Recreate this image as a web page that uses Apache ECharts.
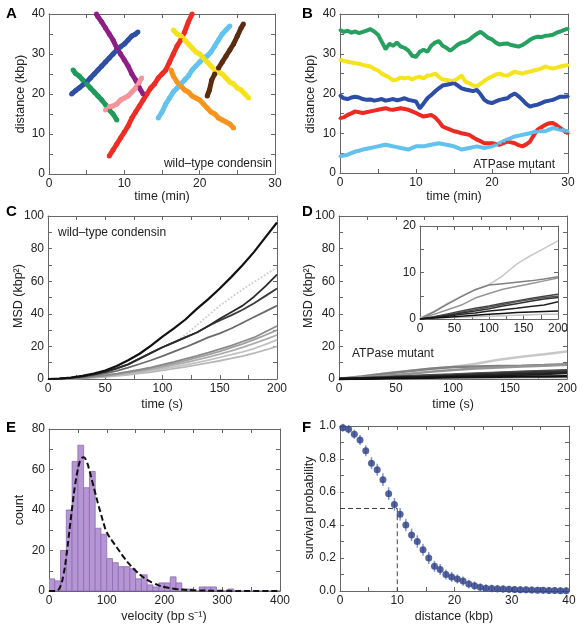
<!DOCTYPE html>
<html><head><meta charset="utf-8">
<script src="https://cdn.jsdelivr.net/npm/echarts@6/dist/echarts.min.js"></script>
<style>html,body{margin:0;padding:0;background:#fff}#c{width:583px;height:632px}</style>
</head><body><div id="c"></div><script>
// ---------- Panel A: wild-type condensin traces [time (min), distance (kbp)]
const aBlue = [[3,20],[3.5,20.8],[4,21.5],[4.5,22.3],[5,23],[5.5,24],[6,25],[6.5,26],[7,27],[7.5,28],[8,29],[8.5,30],[9,31],[9.5,31.8],[10,32.5],[10.5,33.5],[11,34.5],[11.5,35],[11.8,35.5]];
const aGreen = [[3.2,26],[3.5,25.2],[4,24.5],[4.5,23.5],[5,22.5],[5.5,21.5],[6,20.5],[6.5,19.5],[7,18.5],[7.5,17.3],[8,16],[8.5,15],[9,13.5]];
const aPurple = [[6.3,40],[6.5,39.3],[7,38],[7.5,36.5],[8,35],[8.5,33.5],[9,31.5],[9.5,30],[10,28.5],[10.5,27],[11,25],[11.5,23.5],[12,21.5],[12.5,20]];
const aPink = [[7.5,16],[8,16.8],[8.5,17],[9,17.5],[9.5,18.5],[10,19],[10.5,19.5],[11,20.5],[11.5,21.5],[12,23],[12.3,24]];
const aRed = [[8,4.5],[8.5,6],[9,7.5],[9.5,9],[10,10.5],[10.5,12],[11,14],[11.5,15.5],[12,17],[12.5,18.5],[13,20],[13.5,21.5],[14,22.5],[14.5,24],[15,25],[15.5,26],[16,28],[16.5,30],[17,32],[17.5,33.5],[18,35.5],[18.5,38],[19,40]];
const aLightBlue = [[14.5,14],[15,15.5],[15.5,17.5],[16,19],[16.5,20.5],[17,21.5],[17.5,22.5],[18,23.5],[18.5,24.5],[19,26],[19.5,27],[20,28],[20.5,29],[21,29.5],[21.5,30.5],[22,32],[22.5,33.5],[23,35],[23.5,36],[24,37]];
const aYellow = [[16.5,36],[17,35],[17.5,34.5],[18,33.5],[18.5,32.5],[19,31.5],[19.5,30.5],[20,30],[20.5,29],[21,28],[21.5,27],[22,26],[22.5,25.5],[23,25],[23.5,24],[24,23],[24.5,22.5],[25,21.5],[25.5,21],[26,20],[26.5,19]];
const aOrange = [[16.2,26],[16.5,24.5],[17,23],[17.5,22],[18,21],[18.5,20.5],[19,19.5],[19.5,19],[20,18.5],[20.5,17.5],[21,16.5],[21.5,15.5],[22,15],[22.5,14],[23,13.5],[23.5,13],[24,12.5],[24.5,11.5]];
const aBrown = [[21,19.5],[21.3,21],[21.6,23.5],[22,25],[22.5,26.5],[23,28],[23.5,29.5],[24,31],[24.5,32.5],[25,34.5],[25.5,36.5],[25.8,37.5]];

// ---------- Panel B: ATPase mutant traces, sampled every 0.5 min from 0 to 30
const bGreen = [36,35.5,35.8,35.3,35.6,35.2,35.5,35.8,36.2,35.6,34.8,33,31.2,32.5,32,32.8,31.8,31.5,30.8,29.5,29.2,30.5,31,30.5,32,32.8,33.2,32,31.5,30.8,31.5,32.3,32.8,33,33.5,34.3,35,35.5,34.8,34,33.6,32.8,32.3,32.5,32.6,32.2,32,31.8,32.2,32.8,33.5,34,34.3,34.2,34.5,34.6,34.8,35.3,35.6,36,36.3];
const bYellow = [28.5,28.2,28,27.8,27.6,27.5,27.2,27,26.8,26.2,25.8,25,24.5,24,23.3,23.5,24,23.8,24,23.5,24,24.2,23.8,24.5,24.6,25,24.2,23.5,23.4,23.2,23.2,23.8,24.5,23,22.6,22,21.8,22.5,23.2,23.8,24.3,24.8,25,24.6,24.5,25,25.5,25.2,25,25.3,25.5,25.8,26,26.3,26.8,26.5,26.3,26.5,26.8,27,27.2];
const bBlue = [19.5,18.8,18.6,19,19.2,19,18.6,18.4,18.5,18.2,18.4,18.6,18.2,18.4,18.6,18.3,18.5,18.8,18.4,18.2,18,16.3,17.5,18.8,19.6,20.5,21.3,22,22.2,22.4,22.6,22,21.3,21,20.8,20.6,20.9,19.8,18.4,17.8,17.6,18,18.4,18.6,18.8,19.5,20,19.3,18.4,17.4,16.7,17,17.2,17.6,18,18.2,18.4,18.8,19.2,19.2,19.3];
const bRed = [13.8,14,14.6,15,15.5,15.3,15.1,15.3,15.5,15.7,15.9,16.1,16.3,16,15.9,16.1,16.3,16.1,15.9,15.5,15.1,14.6,14.2,14.4,14.6,14,13,11.7,11.3,10.9,10.5,10.3,10,9.8,9.6,9,8.4,8,7.5,7.5,7.5,7.3,7.1,7.5,7.9,7.7,7.5,7,6.7,7.2,7.9,9.5,10.9,11.5,12.1,12.5,12.6,12,11.3,10.6,10];
const bLightBlue = [4.2,4.4,4.6,5,5.4,5.6,5.9,6.1,6.3,6.5,6.7,6.9,7.1,6.9,6.7,6.5,6.3,6.1,5.9,6.3,6.7,6.7,6.7,6.9,7.1,7.3,7.5,7.3,7.1,6.9,6.7,6.3,5.9,6.1,6.3,6.5,6.7,6.5,6.3,6.5,6.7,7.1,7.5,8,8.4,8.8,9.2,9.4,9.6,9.8,10,10.3,10.5,10.5,10.5,10.9,11.3,11.1,10.9,10.7,10.5];

// ---------- Panel C: MSD wild-type (kbp^2), every 10 s from 0 to 200
const c1 = [0,0.3,0.9,1.9,3.3,5.2,8,11.5,15.5,20.5,26,31,36.5,43,49,55.5,62.5,70,78,87,96];
const c2 = [0,0.2,0.7,1.6,2.8,4.4,6.5,9,12.5,16,19.5,22.5,25.5,28.5,32.5,37,41,45,50.5,57,64];
const c3 = [0,0.2,0.7,1.6,2.8,4.4,6.5,9,12.5,16,19.5,22.5,25.5,28.5,32.5,36,39,42.5,46.5,51,55.5];
const c4 = [0,0.2,0.7,1.6,2.8,4.4,6.5,9,12.5,16,19.5,22.5,27,33,39,45,50,55,59.5,64,68.5];
const c5 = [0,0.1,0.5,1.2,2.2,3.5,5,7,9.2,11.5,14,16.8,19.5,22.5,25.5,28,31,34.5,38,41.5,45];
const c6 = [0,0.1,0.3,0.7,1.4,2.3,3.3,4.5,5.8,7.2,8.8,10.5,12.3,14.2,16.2,18.3,20.5,23,25.5,29,32.5];
const c7 = [0,0.1,0.3,0.7,1.3,2.1,3,4.1,5.3,6.6,8,9.6,11.3,13.1,15,17,19.2,21.6,24.2,27,30];
const c8 = [0,0.1,0.3,0.6,1.1,1.8,2.6,3.6,4.7,5.9,7.2,8.6,10.1,11.7,13.4,15.2,17.2,19.4,21.8,24.3,27];
const c9 = [0,0.1,0.2,0.5,1,1.6,2.3,3.1,4,5,6.2,7.4,8.7,10.1,11.6,13.2,14.9,16.7,18.7,21.2,24];
const c10 = [0,0.1,0.2,0.4,0.8,1.3,1.9,2.6,3.4,4.3,5.3,6.3,7.4,8.6,9.9,11.2,12.6,14.1,15.8,17.8,20];

// ---------- Panel D: MSD ATPase mutant (kbp^2), every 20 s from 0 to 200
const d1 = [0.3,1.6,3.4,4.9,6.3,7.4,9.3,11.8,13.6,15.2,16.8];
const d2 = [0,1.5,3.2,4.8,6.3,7.3,7.6,7.9,8.2,8.6,9.1];
const d3 = [0,1,2,3,4.5,5.5,6.4,7,7.6,8.2,8.8];
const d4 = [0,0.5,1.1,1.7,2.3,2.8,3.4,3.9,4.4,4.9,5.3];
const d5 = [0,0.4,0.9,1.5,2,2.6,3.1,3.7,4.2,4.6,4.9];
const d6 = [0,0.3,0.8,1.3,1.7,2.2,2.8,3.3,3.8,4.3,4.6];
const d7 = [0,0.3,0.6,1,1.3,1.7,2,2.3,2.7,3,3.7];
const d8 = [0,0.2,0.4,0.6,0.8,1,1.2,1.4,1.5,1.6,1.7];
const d9 = [0,0.2,0.3,0.4,0.5,0.6,0.7,0.8,0.9,1,1];

// ---------- Panel E: velocity histogram (10 bp/s bins, 0..400) and fit
const eCounts = [6,5,20,40,64,72,51,59,31,28,16,14,12,12,11,6,8,3,2,4,4,7,4,1,1,0,2,2,2,0,0,1,0,0,0,0,0,0,0,0];
const eFitX = [0,10,15,20,25,30,35,40,45,50,55,60,65,70,75,80,85,90,95,100,110,120,130,140,150,160,170,180,190,200,220,250,300,350,400];
const eFitY = [0,0,0.3,2.5,8,17,29,41,52,60,65,66,64,59.5,54,48.5,43,38,33,29,24.5,20.5,16.5,13,10,7.5,5.5,4,2.8,2,1,0.4,0.1,0,0];

// ---------- Panel F: survival probability vs distance (1 kbp bins)
const fX = [0.5,1.5,2.5,3.5,4.5,5.5,6.5,7.5,8.5,9.5,10.5,11.5,12.5,13.5,14.5,15.5,16.5,17.5,18.5,19.5,20.5,21.5,22.5,23.5,24.5,25.5,26.5,27.5,28.5,29.5,30.5,31.5,32.5,33.5,34.5,35.5,36.5,37.5,38.5,39.5];
const fY = [0.99,0.98,0.95,0.915,0.85,0.775,0.735,0.675,0.59,0.525,0.465,0.40,0.34,0.30,0.25,0.20,0.15,0.13,0.10,0.085,0.073,0.06,0.042,0.032,0.022,0.017,0.015,0.013,0.012,0.01,0.009,0.008,0.007,0.006,0.005,0.004,0.003,0.003,0.002,0.002];
const fErr = [0.005,0.008,0.01,0.012,0.015,0.018,0.018,0.02,0.02,0.02,0.02,0.02,0.02,0.02,0.018,0.018,0.015,0.015,0.012,0.012,0.01,0.01,0.008,0.008,0.006,0.005,0.005,0.004,0.004,0.003,0.003,0.003,0.002,0.002,0.002,0.002,0.002,0.001,0.001,0.001];
const fHalf = [[0,0.5],[10,0.5],[10,0]];

// ---------- sampling grids
const tB = []; for (let k = 0; k <= 60; k++) tB.push(k * 0.5);
const tC = []; for (let k = 0; k <= 20; k++) tC.push(k * 10);
const tD = []; for (let k = 0; k <= 10; k++) tD.push(k * 20);

const FONT = '"Liberation Sans", Arial, Helvetica, sans-serif';
const GRIDS = [
  {left:49, top:14, width:226, height:160},
  {left:340, top:14, width:228, height:159},
  {left:48, top:216, width:229, height:163},
  {left:339, top:216, width:228, height:163},
  {left:420, top:226, width:138, height:93},
  {left:49, top:429, width:231, height:162},
  {left:340, top:426, width:229, height:165}
];
const AX = [
  {x:[0,30,5,10], y:[0,40,5,10]},
  {x:[0,30,5,10], y:[0,40,5,10]},
  {x:[0,200,25,50], y:[0,100,10,20]},
  {x:[0,200,25,50], y:[0,100,10,20]},
  {x:[0,200,25,50], y:[0,20,5,10]},
  {x:[0,400,50,100], y:[0,80,10,20]},
  {x:[0,40,5,10], y:[0,1,0.1,0.2], yfmt:v=>v.toFixed(1)}
];
const grid = [], xAxis = [], yAxis = [];
function mkAxis(i, r, pos, show, fmt) {
  return {
    type:'value', gridIndex:i, position:pos, min:r[0], max:r[1], interval:r[2],
    axisLine:{show:true, onZero:false, lineStyle:{color:'#666', width:1}},
    axisTick:{show:true, inside:true, length:4, lineStyle:{color:'#666', width:1}},
    axisLabel:{show:show, margin:4, color:'#222', fontSize:12, fontFamily:FONT,
      formatter:v=>{const q=v/r[3]; return Math.abs(q-Math.round(q))<1e-6 ? (fmt?fmt(v):String(Math.round(v))) : '';}},
    splitLine:{show:false}
  };
}
GRIDS.forEach((g,i)=>{
  grid.push(Object.assign({containLabel:false, outerBoundsMode:'none', show:i===4, backgroundColor:'#fff', borderWidth:0}, g));
  xAxis.push(mkAxis(i, AX[i].x, 'bottom', true, AX[i].xfmt), mkAxis(i, AX[i].x, 'top', false));
  yAxis.push(mkAxis(i, AX[i].y, 'left', true, AX[i].yfmt), mkAxis(i, AX[i].y, 'right', false));
});

const series = [];
function trace(gi, data, color, w, sym) {
  series.push({type:'line', xAxisIndex:2*gi, yAxisIndex:2*gi, data:data, showSymbol:sym>0, symbol:'circle', symbolSize:sym,
    lineStyle:{width:w, color:color}, itemStyle:{color:color}, silent:true, clip:true});
}
[[aBlue,'#2f4fa5'],[aGreen,'#1f9a5b'],[aPurple,'#8f1f84'],[aPink,'#f4959c'],[aRed,'#ee2d24'],
 [aLightBlue,'#62c3ee'],[aYellow,'#f5e21e'],[aOrange,'#f7941d'],[aBrown,'#5b2c0f']].forEach(([d,c])=>trace(0,d,c,5,5));
[[bGreen,'#27a060'],[bYellow,'#f5e31c'],[bBlue,'#2d4ea6'],[bRed,'#ee2a22'],[bLightBlue,'#62c2ee']]
  .forEach(([v,c])=>trace(1, tB.map((t,k)=>[t,v[k]]), c, 4, 3));
[[c10,'#b8b8b8'],[c9,'#c2c2c2'],[c8,'#adadad'],[c7,'#a0a0a0'],[c6,'#8a8a8a'],[c5,'#6a6a6a'],[c4,'#cdcdcd'],[c3,'#3a3a3a'],[c2,'#2a2a2a'],[c1,'#111111']]
  .forEach(([v,c],k)=>{ trace(2, tC.map((t,j)=>[t,v[j]]), c, k===9?2.2:1.8, 0); if (v===c4) series[series.length-1].lineStyle.type='dotted'; });
const dSet = [[d1,'#c8c8c8'],[d9,'#c4c4c4'],[d2,'#808080'],[d3,'#959595'],[d4,'#444'],[d5,'#555'],[d6,'#333'],[d7,'#222'],[d8,'#111']];
dSet.forEach(([v,c])=>trace(3, tD.map((t,j)=>[t,v[j]]), c, 2.5, 0));
dSet.forEach(([v,c])=>trace(4, tD.map((t,j)=>[t,v[j]]), c, 1.5, 0));

series.push({type:'custom', xAxisIndex:10, yAxisIndex:10, silent:true, clip:true,
  data: eCounts.map((n,i)=>[i*10, i*10+10, n]),
  renderItem:(p,api)=>{ const a=api.coord([api.value(0), api.value(2)]), b=api.coord([api.value(1), 0]);
    return {type:'rect', shape:{x:a[0], y:a[1], width:b[0]-a[0], height:b[1]-a[1]}, style:{fill:'#b595d3', stroke:'#8d6cb3', lineWidth:0.8}}; }});
series.push({type:'line', xAxisIndex:10, yAxisIndex:10, data:eFitX.map((x,i)=>[x,eFitY[i]]), smooth:true, showSymbol:false,
  lineStyle:{color:'#111', width:2, type:[6,3]}, silent:true, z:5});

series.push({type:'line', xAxisIndex:12, yAxisIndex:12, data:fHalf, showSymbol:false, lineStyle:{color:'#444', width:1, type:[5,3]}, silent:true});
series.push({type:'custom', xAxisIndex:12, yAxisIndex:12, silent:true, z:3,
  data: fX.map((x,i)=>[x,fY[i],fErr[i]]),
  renderItem:(p,api)=>{ const x=api.value(0), y=api.value(1), e=api.value(2);
    const a=api.coord([x,y-e]), b=api.coord([x,y+e]);
    return {type:'line', shape:{x1:a[0],y1:a[1]+3,x2:b[0],y2:b[1]-3}, style:{stroke:'#7f97d6', lineWidth:1.5}}; }});
series.push({type:'scatter', xAxisIndex:12, yAxisIndex:12, data:fX.map((x,i)=>[x,fY[i]]), symbolSize:7,
  itemStyle:{color:'#2c3d85'}, silent:true, z:4});

function txt(t, x, y, opt) {
  opt = opt || {};
  return {type:'text', x:x, y:y, rotation:opt.rot||0, z:100, silent:true,
    style:{text:t, fill:opt.fill||'#222', font:opt.font||('12.5px '+FONT), align:opt.align||'center', verticalAlign:'middle',
      textAlign:opt.align||'center', textVerticalAlign:'middle'}};
}
const LET = 'bold 15px "Liberation Sans Narrow", "Liberation Sans", Arial, sans-serif';
const graphic = [
  txt('A',6,14,{font:LET,align:'left',fill:'#000'}), txt('B',302,14,{font:LET,align:'left',fill:'#000'}),
  txt('C',6,212,{font:LET,align:'left',fill:'#000'}), txt('D',302,212,{font:LET,align:'left',fill:'#000'}),
  txt('E',6,428,{font:LET,align:'left',fill:'#000'}), txt('F',302,428,{font:LET,align:'left',fill:'#000'}),
  txt('distance (kbp)',21,94,{rot:Math.PI/2}), txt('time (min)',162,197),
  txt('distance (kbp)',311,94,{rot:Math.PI/2}), txt('time (min)',454,197),
  txt('MSD (kbp²)',19,296,{rot:Math.PI/2}), txt('time (s)',162,405),
  txt('MSD (kbp²)',309,296,{rot:Math.PI/2}), txt('time (s)',453,405),
  txt('count',20,510,{rot:Math.PI/2}), txt('velocity (bp s⁻¹)',164,617),
  txt('survival probability',310,508,{rot:Math.PI/2}), txt('distance (kbp)',454,617),
  txt('wild–type condensin',272,164,{align:'right',font:'12px '+FONT}),
  txt('ATPase mutant',555,165,{align:'right',font:'12px '+FONT}),
  txt('wild–type condensin',58,233,{align:'left',font:'12px '+FONT}),
  txt('ATPase mutant',352,354,{align:'left',font:'12px '+FONT})
];

const chart = echarts.init(document.getElementById('c'), null, {renderer:'canvas'});
chart.setOption({animation:false, backgroundColor:'#fff', grid:grid, xAxis:xAxis, yAxis:yAxis, series:series, graphic:graphic});
</script></body></html>
